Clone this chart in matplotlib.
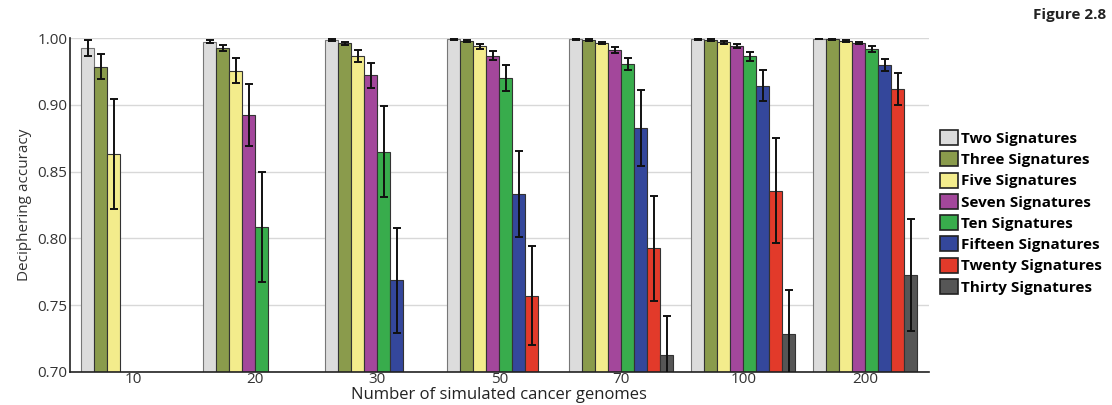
import numpy as np
import matplotlib
matplotlib.use("Agg")
import matplotlib.pyplot as plt

plt.rcParams["font.family"] = ["Open Sans", "DejaVu Sans"]

# genome counts on the x axis
genomes = ["10", "20", "30", "50", "70", "100", "200"]

series = [
    "Two Signatures",
    "Three Signatures",
    "Five Signatures",
    "Seven Signatures",
    "Ten Signatures",
    "Fifteen Signatures",
    "Twenty Signatures",
    "Thirty Signatures",
]
colors = ["#dcdcdc", "#8a9b4c", "#f3ec8c", "#a3479b", "#38ac4c",
          "#34479b", "#e23a2a", "#565656"]

# accuracy per series (None = no bar for that group)
two = [0.9425, 0.9474, 0.9487, 0.9490, 0.9494, 0.9494, 0.9494]
three = [0.9287, 0.9425, 0.9460, 0.9480, 0.9487, 0.9487, 0.9492]
five = [0.8630, 0.9257, 0.9367, 0.9437, 0.9462, 0.9467, 0.9480]
seven = [None, 0.8925, 0.9220, 0.9367, 0.9412, 0.9437, 0.9462]
ten = [None, 0.8084, 0.8650, 0.9200, 0.9305, 0.9362, 0.9417]
fifteen = [None, None, 0.7684, 0.8333, 0.8825, 0.9144, 0.9300]
twenty = [None, None, None, 0.7570, 0.7925, 0.8358, 0.9120]
thirty = [None, None, None, None, 0.7127, 0.7285, 0.7727]

# error bar half-widths
two_err = [0.0060, 0.0010, 0.0008, 0.0006, 0.0005, 0.0005, 0.0004]
three_err = [0.0090, 0.0023, 0.0010, 0.0008, 0.0006, 0.0006, 0.0005]
five_err = [0.0410, 0.0090, 0.0044, 0.0022, 0.0010, 0.0010, 0.0008]
seven_err = [None, 0.0230, 0.0096, 0.0034, 0.0022, 0.0015, 0.0010]
ten_err = [None, 0.0410, 0.0340, 0.0100, 0.0045, 0.0035, 0.0020]
fifteen_err = [None, None, 0.0390, 0.0320, 0.0285, 0.0118, 0.0043]
twenty_err = [None, None, None, 0.0370, 0.0395, 0.0395, 0.0121]
thirty_err = [None, None, None, None, 0.0290, 0.0330, 0.0420]

values = [two, three, five, seven, ten, fifteen, twenty, thirty]
errors = [two_err, three_err, five_err, seven_err, ten_err,
          fifteen_err, twenty_err, thirty_err]

ytick_vals = [0.70, 0.75, 0.80, 0.85, 0.90, 0.95]
ytick_labels = ["0.70", "0.75", "0.80", "0.85", "0.90", "1.00"]

fig = plt.figure(figsize=(11.12, 4.05), dpi=100)
ax = fig.add_axes([0.063, 0.082, 0.772, 0.824])

n = len(series)
width = 0.107
x = np.arange(len(genomes))

for i, (name, vals, errs) in enumerate(zip(series, values, errors)):
    pos = x - width * n / 2 + width * (i + 0.5)
    keep = [j for j, v in enumerate(vals) if v is not None]
    px = pos[keep]
    pv = [vals[j] for j in keep]
    pe = [errs[j] for j in keep]
    edge = "#777777" if i == 0 else "#333333"
    ax.bar(px, [v - 0.70 for v in pv], width, bottom=0.70, color=colors[i],
           edgecolor=edge, linewidth=0.8, label=name, zorder=2)
    ax.errorbar(px, pv, yerr=pe, fmt="none", ecolor="#111111",
                elinewidth=1.4, capsize=3, capthick=1.4, zorder=3)

ax.set_xlim(-0.52, 6.52)
ax.set_ylim(0.70, 0.95)
ax.set_xticks(x)
ax.set_xticklabels(genomes, fontsize=11, color="#333333")
ax.set_yticks(ytick_vals)
ax.set_yticklabels(ytick_labels, fontsize=11, color="#333333")
ax.tick_params(axis="y", length=0, pad=2)
ax.tick_params(axis="x", length=0, pad=0)
ax.yaxis.grid(True, color="#d8d8d8", linewidth=1.0, zorder=0)
ax.set_axisbelow(True)
for side in ["top", "right"]:
    ax.spines[side].set_visible(False)
for side in ["left", "bottom"]:
    ax.spines[side].set_color("#222222")
    ax.spines[side].set_linewidth(1.2)

ax.set_ylabel("Deciphering accuracy", fontsize=11, color="#333333", labelpad=4)
ax.set_xlabel("Number of simulated cancer genomes", fontsize=12,
              color="#222222", labelpad=0)

leg = ax.legend(loc="upper left", bbox_to_anchor=(940 / 1112, 1 - 130 / 405),
                bbox_transform=fig.transFigure, frameon=False,
                prop={"weight": "bold", "size": 11}, handlelength=1.15,
                handleheight=1.15, handletextpad=0.25, labelspacing=0.36,
                borderaxespad=0.0, borderpad=0.0)
for h in leg.legend_handles:
    h.set_edgecolor("#222222")
    h.set_linewidth(1.2)

fig.text(0.995, 0.962, "Figure 2.8", fontsize=11, fontweight="bold",
         ha="right", va="center", color="#222222")

fig.savefig("out.png", dpi=100)
